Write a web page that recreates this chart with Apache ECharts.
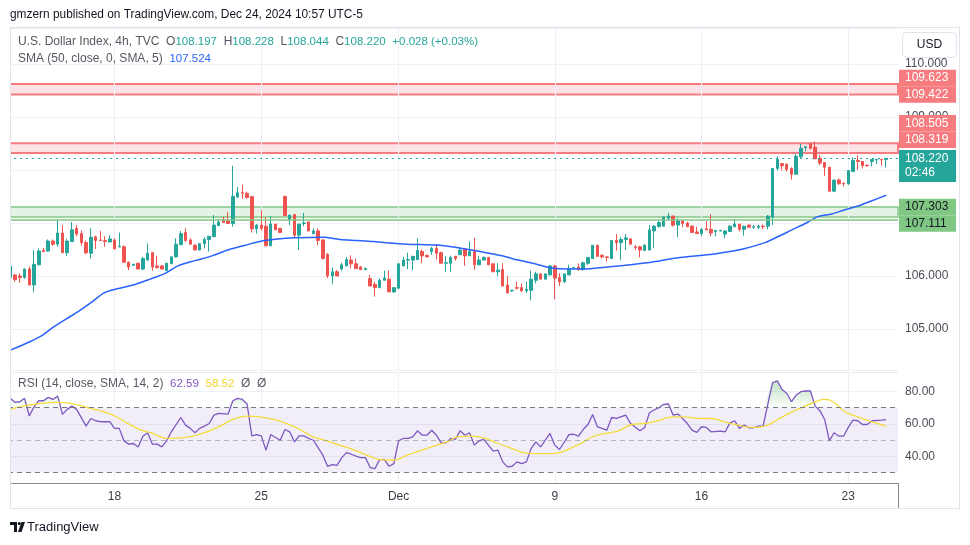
<!DOCTYPE html>
<html lang="en">
<head>
<meta charset="UTF-8">
<title>U.S. Dollar Index, 4h</title>
<script src="https://cdn.jsdelivr.net/npm/echarts@6/dist/echarts.min.js"></script>
<style>
  html, body { margin: 0; padding: 0; background: #fff; }
  #chart { width: 970px; height: 545px; }
</style>
</head>
<body>
<div id="chart"></div>
<script>
// 4h candles: [open, close, low, high]
var candles = [
  [105.97,106.18,105.97,106.18],[106.02,105.93,105.89,106.03],[106.00,105.97,105.87,106.05],[105.97,106.13,105.95,106.14],
  [106.13,105.83,105.83,106.18],[105.83,106.22,105.70,106.49],[106.21,106.47,106.21,106.52],[106.48,106.46,106.46,106.53],
  [106.47,106.66,106.46,106.69],[106.66,106.60,106.57,106.69],[106.60,106.81,106.55,107.06],[106.81,106.44,106.44,106.96],
  [106.44,106.66,106.38,106.70],[106.65,106.87,106.65,107.02],[106.90,106.79,106.75,106.96],[106.80,106.63,106.57,106.86],
  [106.63,106.44,106.41,106.67],[106.43,106.73,106.33,106.90],[106.74,106.67,106.51,106.76],[106.68,106.67,106.66,106.85],
  [106.67,106.65,106.55,106.75],[106.64,106.70,106.64,106.77],[106.68,106.51,106.51,106.71],[106.55,106.56,106.54,106.82],
  [106.55,106.26,106.25,106.58],[106.26,106.17,106.11,106.27],[106.20,106.22,106.19,106.23],[106.24,106.13,106.13,106.25],
  [106.13,106.33,106.11,106.36],[106.30,106.43,106.30,106.61],
  [106.44,106.17,106.10,106.44],[106.19,106.16,106.14,106.38],[106.19,106.13,106.13,106.21],[106.10,106.24,106.10,106.25],
  [106.23,106.36,106.23,106.38],[106.36,106.60,106.35,106.71],[106.59,106.80,106.59,106.85],[106.82,106.67,106.65,106.90],
  [106.68,106.60,106.60,106.71],[106.58,106.49,106.49,106.60],[106.49,106.61,106.48,106.62],[106.61,106.69,106.52,106.73],
  [106.69,106.75,106.46,106.75],[106.74,106.96,106.74,107.15],[106.95,107.02,106.95,107.07],[107.07,107.01,107.01,107.12],
  [107.04,106.99,106.99,107.21],[106.99,107.50,106.93,108.08],[107.49,107.57,107.47,107.68],[107.57,107.56,107.45,107.72],
  [107.56,107.48,107.46,107.59],[107.50,106.89,106.82,107.50],[106.89,106.96,106.80,106.98],[106.96,106.90,106.85,107.24],
  [106.94,106.57,106.57,107.11],[106.57,106.98,106.57,107.13],[106.98,106.87,106.87,106.98],[106.90,106.82,106.82,106.90],
  [107.50,107.14,107.14,107.52],[107.06,107.15,106.96,107.15],
  [107.16,106.77,106.73,107.17],[106.77,106.98,106.49,106.98],[106.99,107.00,106.94,107.19],[107.02,106.85,106.85,107.02],
  [106.80,106.85,106.80,106.90],[106.85,106.67,106.58,106.90],[106.68,106.33,106.31,106.69],[106.41,106.00,105.96,106.43],
  [106.00,106.08,105.85,106.16],[106.08,106.00,106.00,106.11],[106.13,106.21,106.10,106.25],[106.19,106.31,106.18,106.36],
  [106.30,106.23,106.14,106.39],[106.23,106.14,106.14,106.33],[106.17,106.12,106.11,106.19],[106.12,106.14,106.11,106.16],
  [105.95,105.81,105.81,106.02],[105.84,105.78,105.61,105.89],[105.78,105.92,105.77,105.95],[105.92,105.96,105.92,106.10],
  [105.94,105.70,105.70,106.11],[105.70,105.78,105.68,105.78],[105.77,106.23,105.75,106.23],[106.19,106.30,106.19,106.36],
  [106.30,106.31,106.13,106.44],[106.30,106.37,106.11,106.38],[106.31,106.48,106.31,106.71],[106.46,106.38,106.24,106.50],
  [106.39,106.36,106.36,106.40],[106.46,106.52,106.40,106.55],[106.52,106.43,106.31,106.60],
  [106.44,106.24,106.24,106.46],[106.24,106.25,106.08,106.38],[106.24,106.35,106.08,106.38],[106.37,106.33,106.29,106.38],
  [106.40,106.49,106.40,106.52],[106.51,106.38,106.19,106.51],[106.38,106.46,106.38,106.65],[106.46,106.21,106.12,106.72],
  [106.21,106.30,106.21,106.38],[106.30,106.35,106.30,106.37],[106.35,106.21,106.21,106.36],[106.23,106.08,106.08,106.24],
  [106.08,106.11,106.00,106.24],[106.12,105.81,105.81,106.24],[105.83,105.68,105.68,106.00],[105.72,105.73,105.70,105.74],
  [105.78,105.77,105.74,105.89],[105.78,105.72,105.70,105.86],[105.72,105.75,105.68,105.89],[105.73,105.94,105.54,106.10],
  [105.92,106.04,105.86,106.08],[106.04,105.94,105.94,106.04],[105.94,106.04,105.94,106.04],[106.02,106.19,106.02,106.21],
  [106.19,105.96,105.56,106.21],[105.97,105.89,105.81,106.05],[105.89,106.04,105.87,106.04],[106.02,106.14,106.02,106.21],
  [106.15,106.16,106.13,106.17],[106.17,106.12,106.10,106.24],[106.12,106.25,106.10,106.27],
  [106.24,106.35,106.21,106.36],[106.33,106.58,106.33,106.58],[106.58,106.37,106.37,106.59],[106.39,106.36,106.33,106.41],
  [106.36,106.35,106.28,106.37],[106.33,106.67,106.33,106.68],[106.67,106.63,106.48,106.79],[106.63,106.69,106.30,106.73],
  [106.69,106.72,106.49,106.79],[106.70,106.60,106.60,106.71],[106.55,106.54,106.49,106.58],[106.55,106.49,106.35,106.57],
  [106.48,106.58,106.48,106.60],[106.49,106.87,106.49,106.96],[106.85,106.94,106.53,106.96],[106.93,107.01,106.92,107.04],
  [106.94,107.11,106.94,107.12],[107.09,107.13,107.04,107.19],[107.13,106.96,106.93,107.14],[106.96,107.04,106.73,107.09],
  [107.04,106.99,106.92,107.05],[107.00,106.93,106.93,107.02],[106.94,106.82,106.82,106.96],[106.83,106.80,106.80,106.93],
  [106.80,106.88,106.75,106.90],[106.89,106.87,106.87,107.04],[106.88,106.81,106.75,107.17],[106.84,106.86,106.75,106.87],
  [106.85,106.86,106.84,106.87],[106.79,106.85,106.71,106.85],
  [106.84,106.94,106.84,106.96],[106.93,106.98,106.92,107.07],[106.98,106.88,106.84,106.98],[106.88,106.94,106.76,106.95],
  [106.96,106.92,106.91,106.97],[106.92,106.93,106.89,106.96],[106.92,106.94,106.88,106.97],[106.94,106.93,106.88,106.97],
  [106.94,107.13,106.88,107.15],[107.11,108.03,106.96,108.03],[108.03,108.20,107.99,108.26],[108.12,108.08,107.99,108.13],
  [108.11,108.01,107.97,108.12],[108.03,107.92,107.82,108.05],[107.92,108.26,107.92,108.30],[108.25,108.41,108.22,108.49],
  [108.42,108.44,108.35,108.45],[108.49,108.41,108.39,108.52],[108.43,108.21,108.21,108.54],[108.22,108.13,108.09,108.28],
  [108.14,108.05,107.89,108.15],[108.05,107.60,107.59,108.06],[107.60,107.81,107.59,107.81],[107.81,107.74,107.72,107.84],
  [107.75,107.74,107.69,107.76],[107.74,107.99,107.72,108.00],[107.97,108.18,107.97,108.24],[108.18,108.16,108.00,108.28],
  [108.16,108.08,108.03,108.16],[108.09,108.08,108.06,108.10],[108.16,108.20,108.07,108.20],[108.19,108.20,108.11,108.21],
  [108.20,108.19,108.08,108.21],[108.197,108.220,108.044,108.228]
];

// SMA(50): [bar index, value]
var smaLine = [
  [0,104.60],[4.1,104.76],[6.9,104.89],[9.0,105.03],[12.0,105.20],[14.7,105.35],[17.4,105.52],[19.6,105.67],
  [21.7,105.74],[25.9,105.83],[29.5,105.94],[32.7,106.05],[35.4,106.19],[39.0,106.29],[42.6,106.38],[45.9,106.49],
  [49.6,106.58],[53.1,106.66],[56.5,106.70],[60.1,106.72],[66.0,106.73],[69.6,106.69],[73.2,106.67],[76.6,106.65],
  [80.2,106.62],[83.8,106.60],[90.7,106.58],[96.7,106.50],[103.8,106.38],[107.2,106.30],[110.8,106.23],[114.4,106.15],
  [117.8,106.13],[120.3,106.13],[127.3,106.18],[134.5,106.25],[141.4,106.35],[148.4,106.41],[152.0,106.46],[155.2,106.52],
  [159.4,106.63],[162.1,106.74],[165.1,106.87],[167.9,106.99],[170.6,107.12],[173.5,107.17],[176.3,107.25],[179.0,107.32],
  [182.0,107.42],[185,107.524]
];

// RSI(14): [bar index, value]
var rsiLine = [
  [0,75.7],[1,73.2],[2,73.6],[3,75.7],[4,64.8],[5,70.5],[6,74.2],[7,74.2],[8,76.3],[9,75.0],[10,77.1],[11,65.8],
  [12,68.9],[13,70.9],[14,68.9],[16,58.6],[17,63.3],[18,61.9],[19,61.3],[21,61.3],[22,57.2],[23,57.2],[24,49.5],
  [25,47.5],[26,47.9],[27,45.8],[28,52.4],[29,54.5],[30,47.5],[31,47.5],[32,45.8],[33,49.5],[34,55.1],[36,63.9],
  [37,59.2],[38,57.2],[39,54.5],[40,57.2],[41,58.6],[42,60.2],[43,65.4],[44,66.4],[46,66.0],[47,74.2],[48,75.7],
  [49,75.0],[50,72.2],[51,52.6],[52,53.4],[53,52.6],[54,43.8],[55,53.4],[56,51.6],[57,49.9],[58,56.5],[59,55.1],
  [60,48.9],[61,52.6],[62,52.6],[63,51.0],[64,49.9],[65,45.4],[66,40.7],[67,33.9],[68,34.9],[69,34.5],[70,39.2],
  [71,42.3],[72,41.3],[73,40.1],[74,39.2],[75,39.2],[76,33.1],[77,32.4],[78,38.0],[79,38.0],[80,33.9],[81,35.5],
  [82,49.5],[83,51.0],[84,51.0],[85,52.0],[86,55.7],[87,53.0],[88,53.0],[89,56.1],[90,53.0],[91,48.3],[92,48.3],
  [93,51.0],[94,50.4],[95,55.7],[96,53.0],[97,54.5],[98,46.9],[99,49.5],[100,50.4],[102,43.2],[103,43.8],[104,36.6],
  [105,33.5],[106,33.9],[107,36.6],[108,35.5],[109,36.6],[110,44.8],[111,48.9],[112,45.8],[114,54.1],[115,46.9],
  [116,44.2],[118,53.4],[119,53.6],[120,52.4],[121,56.5],[122,59.6],[123,65.8],[124,58.2],[126,56.1],[127,63.9],
  [128,63.3],[130,65.4],[131,60.2],[133,55.7],[134,57.8],[135,66.8],[136,68.5],[137,69.9],[138,72.0],[139,72.2],
  [140,65.4],[141,66.0],[142,63.3],[143,60.2],[144,56.1],[145,54.7],[146,58.2],[147,57.8],[148,55.1],[150,55.5],
  [151,55.1],[152,60.6],[153,61.9],[154,57.2],[155,59.2],[156,57.6],[157,57.6],[158,58.6],[159,58.6],[161,85.3],
  [162,86.4],[163,81.2],[164,78.8],[165,73.6],[166,77.7],[167,79.8],[168,80.2],[169,80.2],[170,70.9],[171,68.1],
  [172,62.7],[173,49.5],[174,54.5],[175,52.4],[176,52.4],[177,57.8],[178,62.3],[179,61.9],[180,59.6],[181,59.6],
  [182,61.9],[184,62.3],[185,62.59]
];

// SMA(14) of RSI: [bar index, value]
var rsiMaLine = [
  [0,68.9],[2.7,70.9],[5.6,72.2],[9.8,73.2],[12.6,72.6],[16.2,70.1],[18.9,68.1],[21.7,65.4],[24.6,60.6],[27.4,56.5],
  [30.1,54.1],[33.1,51.0],[35.8,51.4],[38.6,52.4],[41.5,55.1],[44.3,58.6],[47.0,62.7],[50.0,64.8],[52.7,64.3],[55.5,62.7],
  [58.4,60.2],[61.2,56.5],[63.9,52.0],[66.9,49.5],[69.6,46.9],[72.4,44.2],[75.3,40.7],[78.1,38.0],[80.8,37.6],[83.8,40.7],
  [86.5,43.4],[89.3,46.2],[92.2,48.9],[94.5,52.0],[97.5,52.4],[100.3,51.0],[103.0,47.9],[106.0,44.8],[108.7,42.1],[111.4,41.7],
  [114.4,41.7],[116.5,42.7],[118.6,45.4],[120.7,48.3],[122.9,52.0],[125.6,54.1],[128.3,55.5],[131.3,59.6],[134.0,60.2],[136.8,61.9],
  [139.8,64.3],[142.5,64.3],[145.2,63.3],[148.2,63.3],[150.9,61.2],[153.7,59.2],[156.7,57.8],[159.4,58.6],[162.1,62.7],[165.1,67.4],
  [167.9,70.9],[170.6,74.2],[172.1,75.0],[173.8,73.6],[176.3,67.4],[179.0,64.3],[182.0,61.2],[185,58.52]
];

// date labels on the time axis: bar index -> text
var dayTickIdx = [22, 53, 82, 115, 146, 177];
var dayTickText = ['18', '25', 'Dec', '9', '16', '23'];

// drawn zones (supply / demand)
var redZones = [[109.422, 109.623], [108.319, 108.505]];
var greenZones = [[107.111, 107.303]];
var lastPrice = 108.220;
var lastChange = '+0.028 (+0.03%)';
var countdown = '02:46';

var TEAL = '#26a69a', RED = '#ef5350', FONT = "'Liberation Sans', Arial, sans-serif";
var padBars = 2;
var nCats = candles.length + padBars;
var cats = [];
for (var i = 0; i < nCats; i++) cats.push(String(i));
var tickMap = {};
dayTickIdx.forEach(function (v, k) { tickMap[v] = dayTickText[k]; });

var chart = echarts.init(document.getElementById('chart'));

var vGrid = {
  silent: true, symbol: ['none', 'none'], z: 1,
  label: { show: false },
  lineStyle: { color: '#eef0f5', width: 1, type: 'solid' },
  data: dayTickIdx.map(function (v) { return { xAxis: v }; })
};

var option = {
  animation: false,
  grid: [
    { left: 8, right: 72, top: 28, height: 342 },
    { left: 8, right: 72, top: 372, height: 111 }
  ],
  xAxis: [
    { type: 'category', gridIndex: 0, data: cats, boundaryGap: true,
      axisLine: { show: false }, axisTick: { show: false }, axisLabel: { show: false }, splitLine: { show: false } },
    { type: 'value', gridIndex: 0, min: -0.5, max: nCats - 0.5, show: false },
    { type: 'category', gridIndex: 1, data: cats, boundaryGap: true,
      axisLine: { lineStyle: { color: '#868993' } }, axisTick: { show: false }, splitLine: { show: false },
      axisLabel: {
        color: '#3b3e48', fontSize: 12, fontFamily: FONT, margin: 8,
        interval: function (idx) { return tickMap[idx] !== undefined; },
        formatter: function (v, idx) { return tickMap[idx] || ''; }
      } },
    { type: 'value', gridIndex: 1, min: -0.5, max: nCats - 0.5, show: false }
  ],
  yAxis: [
    { type: 'value', gridIndex: 0, position: 'right', min: 104.226, max: 110.679, splitNumber: 6,
      axisLine: { show: true, lineStyle: { color: '#868993' } }, axisTick: { show: false },
      axisLabel: { color: '#4a4d57', fontSize: 12, fontFamily: FONT, margin: 7, showMinLabel: false, showMaxLabel: false,
        formatter: function (v) { return v.toFixed(3); } },
      splitLine: { lineStyle: { color: '#eef0f5' } } },
    { type: 'value', gridIndex: 1, position: 'right', min: 23.6, max: 91.9, splitNumber: 3,
      axisLine: { show: true, lineStyle: { color: '#868993' } }, axisTick: { show: false },
      axisLabel: { color: '#4a4d57', fontSize: 12, fontFamily: FONT, margin: 7, showMinLabel: false, showMaxLabel: false,
        formatter: function (v) { return v.toFixed(2); } },
      splitLine: { lineStyle: { color: '#eef0f5' } } }
  ],
  series: [
    {
      name: 'DXY', type: 'candlestick', xAxisIndex: 0, yAxisIndex: 0,
      data: candles, barWidth: 3,
      itemStyle: { color: TEAL, color0: RED, borderColor: TEAL, borderColor0: RED, borderWidth: 1 },
      markArea: {
        silent: true, label: { show: false },
        data: redZones.map(function (z) {
          return [{ yAxis: z[0], itemStyle: { color: 'rgba(242,54,69,0.14)', borderColor: '#f77c80', borderWidth: 2 } }, { yAxis: z[1] }];
        }).concat(greenZones.map(function (z) {
          return [{ yAxis: z[0], itemStyle: { color: 'rgba(76,175,80,0.15)', borderColor: '#81c784', borderWidth: 1.5 } }, { yAxis: z[1] }];
        }))
      },
      markLine: {
        silent: true, symbol: ['none', 'none'], label: { show: false },
        data: [
          { yAxis: lastPrice, lineStyle: { type: [2, 4], color: TEAL, width: 1.2 } },
          { yAxis: greenZones[0][0] - 0.04, lineStyle: { type: 'solid', color: '#81c784', width: 1.5 } }
        ]
      }
    },
    {
      name: 'SMA', type: 'line', xAxisIndex: 1, yAxisIndex: 0, data: smaLine,
      showSymbol: false, smooth: 0.3, z: 3,
      lineStyle: { color: '#2962ff', width: 1.5 },
      markLine: vGrid
    },
    {
      name: 'RSI OB', type: 'line', xAxisIndex: 3, yAxisIndex: 1,
      data: rsiLine.map(function (p) { return [p[0], Math.max(p[1], 70)]; }),
      showSymbol: false, lineStyle: { width: 0 }, z: 1,
      areaStyle: { origin: 70, color: new echarts.graphic.LinearGradient(0, 0, 0, 1, [
        { offset: 0, color: 'rgba(76,175,80,0.5)' }, { offset: 1, color: 'rgba(76,175,80,0.03)' }]) }
    },
    {
      name: 'RSI', type: 'line', xAxisIndex: 3, yAxisIndex: 1, data: rsiLine,
      showSymbol: false, z: 3,
      lineStyle: { color: '#7e57c2', width: 1.3 },
      markArea: { silent: true, label: { show: false }, itemStyle: { color: 'rgba(126,87,194,0.1)' },
        data: [[{ yAxis: 30 }, { yAxis: 70 }]] },
      markLine: {
        silent: true, symbol: ['none', 'none'], label: { show: false },
        data: [
          { yAxis: 70, lineStyle: { type: [5, 4], color: '#787b86', width: 1 } },
          { yAxis: 50, lineStyle: { type: [5, 4], color: 'rgba(120,123,134,0.5)', width: 1 } },
          { yAxis: 30, lineStyle: { type: [5, 4], color: '#787b86', width: 1 } }
        ]
      }
    },
    {
      name: 'RSI MA', type: 'line', xAxisIndex: 3, yAxisIndex: 1, data: rsiMaLine,
      showSymbol: false, smooth: 0.4, z: 3,
      lineStyle: { color: '#f5dc3d', width: 1.3 },
      markLine: vGrid
    }
  ]
};
chart.setOption(option);

// right-hand price tags
var TAG_H = 16.5;
var priceTags = [
  { text: '109.623', price: 109.623, bg: '#f77c80', fg: '#fff' },
  { text: '109.422', price: 109.422, bg: '#f77c80', fg: '#fff' },
  { text: '108.505', price: 108.505, bg: '#f77c80', fg: '#fff' },
  { text: '108.319', price: 108.319, bg: '#f77c80', fg: '#fff' },
  { text: lastPrice.toFixed(3), sub: countdown, price: lastPrice, bg: TEAL, fg: '#fff', fixed: true },
  { text: '107.303', price: 107.303, bg: '#81c784', fg: '#131722' },
  { text: '107.111', price: 107.111, bg: '#81c784', fg: '#131722' }
];

// tags are pushed away from the last-price tag so none overlap
function layoutTags() {
  var items = priceTags.map(function (t) {
    var y = chart.convertToPixel({ yAxisIndex: 0 }, t.price);
    return { t: t, y: y, top: y - TAG_H / 2, h: t.sub ? 32 : TAG_H };
  });
  items.sort(function (a, b) { return a.top - b.top; });
  var fi = 0;
  items.forEach(function (it, k) { if (it.t.fixed) fi = k; });
  var limit = items[fi].top - 2, k;
  for (k = fi - 1; k >= 0; k--) {
    items[k].top = Math.min(items[k].top, limit - items[k].h);
    limit = items[k].top;
  }
  limit = items[fi].top + items[fi].h + 2;
  for (k = fi + 1; k < items.length; k++) {
    items[k].top = Math.max(items[k].top, limit);
    limit = items[k].top + items[k].h;
  }
  return items;
}

var els = [];
// frame: mask the sliver left of the pane border, then the border itself
els.push({ type: 'rect', z: 60, silent: true, shape: { x: 0, y: 27, width: 10, height: 483 },
  style: { fill: '#fff' } });
els.push({ type: 'rect', z: 61, silent: true, shape: { x: 10.5, y: 27.5, width: 949, height: 481 },
  style: { fill: 'none', stroke: '#e0e3eb', lineWidth: 1 } });
els.push({ type: 'line', z: -10, silent: true, shape: { x1: 10, y1: 370.5, x2: 898, y2: 370.5 },
  style: { stroke: '#e0e3eb', lineWidth: 1 } });
els.push({ type: 'line', z: 50, silent: true, shape: { x1: 898.5, y1: 483, x2: 898.5, y2: 509 },
  style: { stroke: '#868993', lineWidth: 1 } });

// price tags
layoutTags().forEach(function (it) {
  els.push({ type: 'rect', z: 100, silent: true, shape: { x: 899, y: it.top, width: 57, height: it.h },
    style: { fill: it.t.bg } });
  els.push({ type: 'text', z: 101, silent: true, x: 905, y: it.top + TAG_H / 2,
    style: { text: it.t.text, fill: it.t.fg, font: '12px ' + FONT, verticalAlign: 'middle', align: 'left' } });
  if (it.t.sub) {
    els.push({ type: 'text', z: 101, silent: true, x: 905, y: it.top + TAG_H / 2 + 14,
      style: { text: it.t.sub, fill: it.t.fg, font: '12px ' + FONT, verticalAlign: 'middle', align: 'left' } });
  }
});

// currency button
els.push({ type: 'rect', z: 100, silent: true, shape: { x: 902.5, y: 32.5, width: 54, height: 25, r: 4 },
  style: { fill: '#fff', stroke: '#e0e3eb', lineWidth: 1 } });
els.push({ type: 'text', z: 101, silent: true, x: 929.5, y: 45,
  style: { text: 'USD', fill: '#131722', font: '12px ' + FONT, align: 'center', verticalAlign: 'middle' } });

// header + legends
els.push({ type: 'text', silent: true, x: 10, y: 15,
  style: { text: 'gmzern published on TradingView.com, Dec 24, 2024 10:57 UTC-5', fill: '#131722',
    font: '11.9px ' + FONT, verticalAlign: 'middle' } });
var last = candles[candles.length - 1];
var nStyle = { fill: '#555862', fontSize: 12, fontFamily: FONT };
var vSize = 11.5;
els.push({ type: 'text', silent: true, x: 18, y: 42, z: 20,
  style: {
    text: '{n|U.S. Dollar Index, 4h, TVC}  {n|O}{v|' + last[0].toFixed(3) + '}  {n|H}{v|' + last[3].toFixed(3) +
      '}  {n|L}{v|' + last[2].toFixed(3) + '}  {n|C}{v|' + last[1].toFixed(3) + '}  {v|' + lastChange + '}',
    verticalAlign: 'middle', font: '12px ' + FONT,
    rich: { n: nStyle, v: { fill: TEAL, fontSize: vSize, fontFamily: FONT } }
  } });
els.push({ type: 'text', silent: true, x: 18, y: 59, z: 20,
  style: {
    text: '{n|SMA (50, close, 0, SMA, 5)}  {b|' + smaLine[smaLine.length - 1][1].toFixed(3) + '}',
    verticalAlign: 'middle', font: '12px ' + FONT,
    rich: { n: nStyle, b: { fill: '#2962ff', fontSize: vSize, fontFamily: FONT } }
  } });
els.push({ type: 'text', silent: true, x: 18, y: 384, z: 20,
  style: {
    text: '{n|RSI (14, close, SMA, 14, 2)}  {p|' + rsiLine[rsiLine.length - 1][1].toFixed(2) + '}  {y|' +
      rsiMaLine[rsiMaLine.length - 1][1].toFixed(2) + '}  {n|\u00d8}  {n|\u00d8}',
    verticalAlign: 'middle', font: '12px ' + FONT,
    rich: { n: nStyle, p: { fill: '#7e57c2', fontSize: vSize, fontFamily: FONT },
      y: { fill: '#f2d42f', fontSize: vSize, fontFamily: FONT } }
  } });

// footer logo
els.push({ type: 'polygon', silent: true, shape: { points: [[10, 522], [17, 522], [17, 532], [14, 532], [14, 525], [10, 525]] },
  style: { fill: '#131722' } });
els.push({ type: 'circle', silent: true, shape: { cx: 19.3, cy: 523.6, r: 1.6 }, style: { fill: '#131722' } });
els.push({ type: 'polygon', silent: true, shape: { points: [[21.5, 522], [25, 522], [21.5, 532], [18, 532]] },
  style: { fill: '#131722' } });
els.push({ type: 'text', silent: true, x: 27, y: 527,
  style: { text: 'TradingView', fill: '#131722', font: '13px ' + FONT, verticalAlign: 'middle' } });

chart.setOption({ graphic: els });
</script>
</body>
</html>
